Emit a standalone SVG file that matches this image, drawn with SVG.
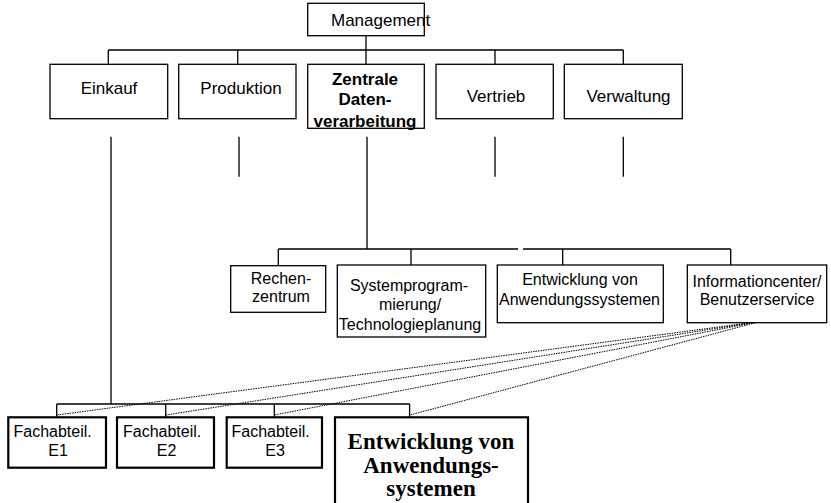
<svg xmlns="http://www.w3.org/2000/svg" width="831" height="503" viewBox="0 0 831 503">
  <style>
    .box { fill: #fff; stroke: #000; stroke-width: 1.3; }
    .box2 { fill: #fff; stroke: #000; stroke-width: 2.2; }
    .ln { fill: none; stroke: #000; stroke-width: 1.3; }
    .dot { fill: none; stroke: #000; stroke-width: 1; stroke-dasharray: 1.5 1; }
    .t { font-family: "Liberation Sans", Arial, sans-serif; font-size: 17px; fill: #000; }
    .s { font-family: "Liberation Sans", Arial, sans-serif; font-size: 16px; fill: #000; }
    .b { font-family: "Liberation Sans", Arial, sans-serif; font-size: 17px; font-weight: bold; fill: #000; }
    .sb { font-family: "Liberation Serif", "Times New Roman", serif; font-size: 23px; font-weight: bold; fill: #000; }
    .m { text-anchor: middle; }
  </style>

  <!-- connectors -->
  <g id="connectors">
    <!-- top level -->
    <path class="ln" d="M366,36 V50 M108.3,50 H623.3 M108.3,50 V64.3 M237.7,50 V64.3 M366,50 V64.3 M495,50 V64.3 M623.3,50 V64.3"/>
    <!-- stubs below the department row -->
    <path class="ln" d="M239,136.7 V176.7 M495,136.7 V176.7 M623.3,136.7 V176.7"/>
    <!-- Zentrale DV branch -->
    <path class="ln" d="M367,136.7 V249 M278.3,249 H518 M523,249 H730.7 M278.3,249 V265.7 M411,249 V265 M562.7,249 V265 M730.7,249 V265"/>
    <!-- Einkauf down to the Fachabteilungen -->
    <path class="ln" d="M111,136.7 V404 M56.7,404 H409.6 M56.7,404 V417.3 M165.7,404 V417.3 M274.3,404 V417.3 M409.6,404 V417.3"/>
    <!-- dotted service lines from Informationcenter -->
    <path class="dot" d="M760,321.5 L57,415 M760,321.5 L166,415 M760,321.5 L274.3,415 M760,321.5 L410,415"/>
  </g>

  <g id="management">
    <rect class="box" x="307.7" y="3.3" width="116.6" height="32.4"/>
    <text class="t" x="331" y="26">Management</text>
  </g>

  <g id="einkauf">
    <rect class="box" x="50" y="64.3" width="117.7" height="54.4"/>
    <text class="t m" x="109" y="94">Einkauf</text>
  </g>
  <g id="produktion">
    <rect class="box" x="178.7" y="64.3" width="117.3" height="54.4"/>
    <text class="t m" x="241" y="94">Produktion</text>
  </g>
  <g id="zentrale-dv">
    <rect class="box" x="307.7" y="64.3" width="116.6" height="64"/>
    <text class="b m" x="365" y="85">Zentrale</text>
    <text class="b m" x="365" y="104.5">Daten-</text>
    <text class="b m" x="365" y="126.5">verarbeitung</text>
  </g>
  <g id="vertrieb">
    <rect class="box" x="436" y="64.3" width="117.3" height="54.4"/>
    <text class="t m" x="496" y="102">Vertrieb</text>
  </g>
  <g id="verwaltung">
    <rect class="box" x="564.3" y="64.3" width="118" height="54.4"/>
    <text class="t m" x="628.5" y="102">Verwaltung</text>
  </g>

  <g id="rechenzentrum">
    <rect class="box" x="230.7" y="265.7" width="95" height="46.6"/>
    <text class="s m" x="281" y="284.3">Rechen-</text>
    <text class="s m" x="281" y="301.7">zentrum</text>
  </g>
  <g id="systemprogrammierung">
    <rect class="box" x="337.3" y="265" width="148.4" height="72"/>
    <text class="s m" x="409" y="291">Systemprogram-</text>
    <text class="s m" x="410" y="310">mierung/</text>
    <text class="s m" x="410" y="330">Technologieplanung</text>
  </g>
  <g id="anwendungsentwicklung">
    <rect class="box" x="497.3" y="265" width="166" height="57.7"/>
    <text class="s m" x="580" y="285">Entwicklung von</text>
    <text class="s m" x="579.5" y="305">Anwendungssystemen</text>
  </g>
  <g id="informationcenter">
    <rect class="box" x="687.3" y="265" width="139.4" height="57.7"/>
    <text class="s m" x="757" y="286.5">Informationcenter/</text>
    <text class="s m" x="757" y="305">Benutzerservice</text>
  </g>

  <g id="fachabteilung-e1">
    <rect class="box2" x="8.3" y="417.3" width="97.7" height="50.4"/>
    <text class="s" x="13.5" y="436.7">Fachabteil.</text>
    <text class="s m" x="58" y="456">E1</text>
  </g>
  <g id="fachabteilung-e2">
    <rect class="box2" x="117" y="417.3" width="97" height="50.4"/>
    <text class="s" x="123" y="436.7">Fachabteil.</text>
    <text class="s m" x="166.5" y="456">E2</text>
  </g>
  <g id="fachabteilung-e3">
    <rect class="box2" x="226.7" y="417.3" width="95.3" height="50.4"/>
    <text class="s" x="231.5" y="436.7">Fachabteil.</text>
    <text class="s m" x="275" y="456">E3</text>
  </g>
  <g id="dezentrale-entwicklung">
    <rect class="box2" x="335" y="417.3" width="193" height="100"/>
    <text class="sb m" x="431" y="449.3">Entwicklung von</text>
    <text class="sb m" x="431" y="472.7">Anwendungs-</text>
    <text class="sb m" x="431" y="496">systemen</text>
  </g>
</svg>
